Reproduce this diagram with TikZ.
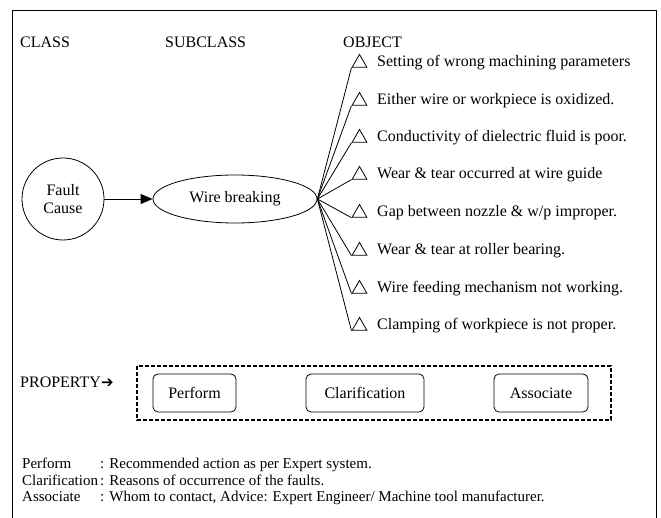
\documentclass[tikz,border=0pt]{standalone}
\usepackage{fontspec}
\setmainfont{Liberation Serif}
\newfontfamily\symfont{DejaVu Sans}
\usepackage{tikz}
\usetikzlibrary{positioning, arrows.meta, shapes.geometric}

\begin{document}
\begin{tikzpicture}[x=1pt,y=-1pt]
		\tikzstyle{txt} = [inner sep=0, anchor=base west, font=\fontsize{16}{18}\selectfont]
		\tikzstyle{cls} = [circle, draw, thick, minimum size=82, inner sep=0,
		text width=44, align=center, font=\fontsize{16}{18}\selectfont]
		\tikzstyle{sub} = [ellipse, draw, thick, minimum width=164, minimum height=48,
		inner sep=0, font=\fontsize{16}{18}\selectfont]
		\tikzstyle{tri} = [regular polygon, regular polygon sides=3, draw, thick,
		minimum size=17, inner sep=0]
		\tikzstyle{prop} = [rectangle, draw, thick, rounded corners=5, minimum height=38,
		font=\fontsize{16}{18}\selectfont]
		\tikzstyle{leg} = [inner sep=0, anchor=base west, font=\fontsize{15}{17}\selectfont]
		\tikzstyle{fan} = [thick]

		\useasboundingbox (0,0) rectangle (661,518);
		\draw [thick] (12,518) -- (12,10) -- (656,10) -- (656,518);

		\node [txt] (h1) at (20,48) {CLASS};
		\node [txt] (h2) at (165,48) {SUBCLASS};
		\node [txt] (h3) at (343,48) {OBJECT};

		\node [cls] (cause) at (63,199) {Fault Cause};
		\node [sub] (wire) at (235,199) {Wire breaking};
		\draw [thick,-{Triangle[length=12,width=10]}] (cause) -- (wire);

		\node [tri] (t1) at (359.5,63) {};
		\node [tri] (t2) at (359.5,101) {};
		\node [tri] (t3) at (359.5,138) {};
		\node [tri] (t4) at (359.5,175) {};
		\node [tri] (t5) at (359.5,213) {};
		\node [tri] (t6) at (359.5,251) {};
		\node [tri] (t7) at (359.5,289) {};
		\node [tri] (t8) at (359.5,326) {};

		\node [txt] (o1) at (377,67) {Setting of wrong machining parameters};
		\node [txt] (o2) at (377,105) {Either wire or workpiece is oxidized.};
		\node [txt] (o3) at (377,142) {Conductivity of dielectric fluid is poor.};
		\node [txt] (o4) at (377,179) {Wear \& tear occurred at wire guide};
		\node [txt] (o5) at (377,217) {Gap between nozzle \& w/p improper.};
		\node [txt] (o6) at (377,255) {Wear \& tear at roller bearing.};
		\node [txt] (o7) at (377,293) {Wire feeding mechanism not working.};
		\node [txt] (o8) at (377,330) {Clamping of workpiece is not proper.};

		\draw [fan] (wire.east) -- (t1.corner 2);
		\draw [fan] (wire.east) -- (t2.corner 2);
		\draw [fan] (wire.east) -- (t3.corner 2);
		\draw [fan] (wire.east) -- (t4.corner 2);
		\draw [fan] (wire.east) -- (t5.corner 2);
		\draw [fan] (wire.east) -- (t6.corner 2);
		\draw [fan] (wire.east) -- (t7.corner 2);
		\draw [fan] (wire.east) -- (t8.corner 2);

		\node [txt] (p0) at (20,387) {PROPERTY{\symfont\bfseries\fontsize{15}{17}\selectfont ➔}};
		\draw [line width=1.2, dash pattern=on 4 off 2] (137,366) rectangle (611,420);
		\node [prop, minimum width=83] (p1) at (194.5,393) {Perform};
		\node [prop, minimum width=118] (p2) at (365,393) {Clarification};
		\node [prop, minimum width=94] (p3) at (541,393) {Associate};

		\node [leg] (l1) at (22,468) {Perform};
		\node [leg] (l2) at (22,485) {Clarification};
		\node [leg] (l3) at (22,501) {Associate};
		\node [leg] (d1) at (100,468) {: Recommended action as per Expert system.};
		\node [leg] (d2) at (100,485) {: Reasons of occurrence of the faults.};
		\node [leg] (d3) at (100,501) {: Whom to contact, Advice: Expert Engineer/ Machine tool manufacturer.};
\end{tikzpicture}
\end{document}
